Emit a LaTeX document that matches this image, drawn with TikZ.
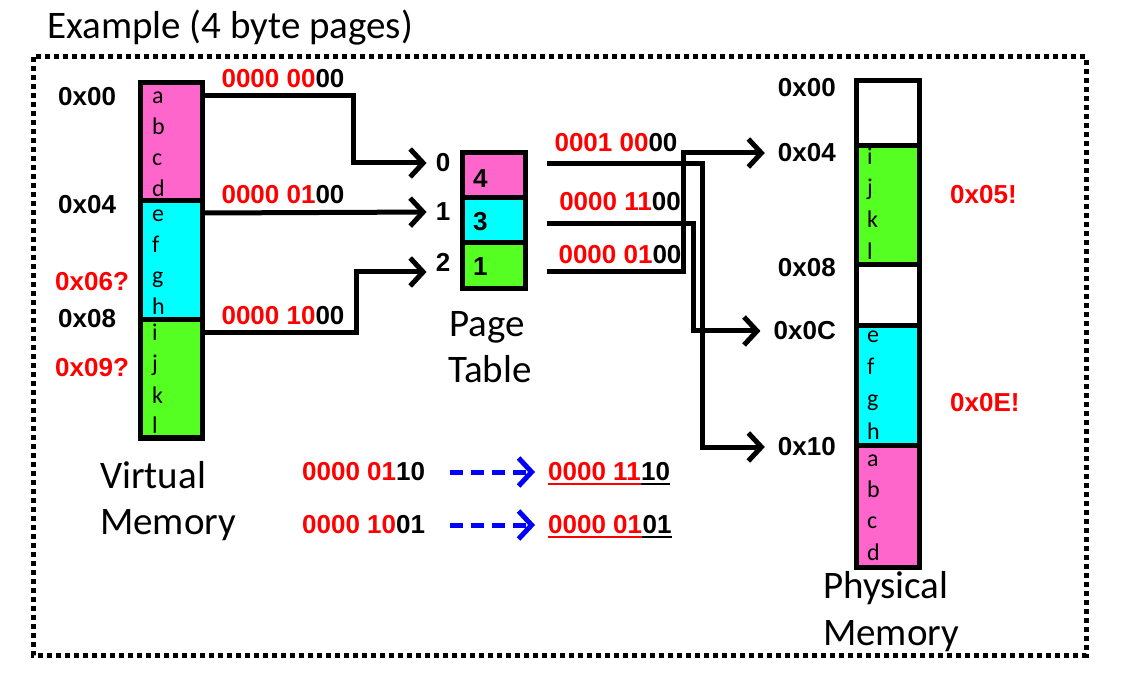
\documentclass[tikz,border=0pt]{standalone}
\usepackage{fontspec}
\setmainfont{Carlito}
\newfontfamily\arialfont{Liberation Sans}
\usetikzlibrary{arrows.meta}
\definecolor{pg}{RGB}{255,102,204}
\definecolor{cy}{RGB}{0,255,255}
\definecolor{gr}{RGB}{85,255,34}
\begin{document}
\begin{tikzpicture}[x=1pt,y=-1pt,
 page/.style={draw, line width=5pt, inner sep=0, minimum width=63pt},
 lbl/.style={font=\arialfont\bfseries\fontsize{26}{30}\selectfont, inner sep=0},
 big/.style={font=\fontsize{39}{46}\selectfont, inner sep=0, anchor=base west},
 ltr/.style={font=\fontsize{24}{27}\selectfont, inner sep=0, anchor=base west},
 conn/.style={line width=5pt, -{Straight Barb[length=13pt,width=28pt]}},
 dconn/.style={line width=5pt, blue, dash pattern=on 13pt off 8pt, -{Straight Barb[length=13pt,width=28pt]}},
]
\useasboundingbox (0,0) rectangle (1138,684);
% title and frame
\node[big] (title) at (47,39) {Example (4 byte pages)};
\draw[line width=5pt, dash pattern=on 5pt off 4pt] (33,57) rectangle (1086,655);
% virtual memory
\node[page, minimum width=62pt, fill=pg, minimum height=118pt] (vp0) at (171,142) {};
\node[page, minimum width=62pt, fill=cy, minimum height=119pt] (vp1) at (171,260.5) {};
\node[page, minimum width=62pt, fill=gr, minimum height=118pt] (vp2) at (171,379) {};
\foreach \ch/\y in {a/104,b/135,c/166,d/197,e/222,f/253,g/284,h/315,i/341,j/372,k/403,l/434}
  \node[ltr] (v\ch) at (152,\y) {\ch};
\node[lbl, anchor=west] (va0) at (58,97) {0x00};
\node[lbl, anchor=west] (va4) at (58,205) {0x04};
\node[lbl, anchor=west, text=red] (va6) at (55,282) {0x06?};
\node[lbl, anchor=west] (va8) at (58,319) {0x08};
\node[lbl, anchor=west, text=red] (va9) at (55,368) {0x09?};
\node[big] (vm1) at (100,488) {Virtual};
\node[big] (vm2) at (100,534) {Memory};
% page table
\node[page, fill=pg, minimum height=45pt] (pt0) at (493.5,175.5) {};
\node[page, fill=cy, minimum height=45pt] (pt1) at (493.5,220.5) {};
\node[page, fill=gr, minimum height=46pt] (pt2) at (493.5,266) {};
\node[lbl, anchor=west] (n4) at (473,179) {4};
\node[lbl, anchor=west] (n3) at (473,222) {3};
\node[lbl, anchor=west] (n1) at (473,267) {1};
\node[lbl] (idx0) at (443,163) {0};
\node[lbl] (idx1) at (443,212) {1};
\node[lbl] (idx2) at (443,262) {2};
\node[big] (pt1l) at (449,337) {Page};
\node[big] (pt2l) at (448,383) {Table};
% physical memory
\node[page, fill=white, minimum height=65pt] (pp0) at (887.5,113.5) {};
\node[page, fill=gr, minimum height=119pt] (pp1) at (887.5,205.5) {};
\node[page, fill=white, minimum height=61pt] (pp2) at (887.5,295.5) {};
\node[page, fill=cy, minimum height=119pt] (pp3) at (887.5,385.5) {};
\node[page, fill=pg, minimum height=122pt] (pp4) at (887.5,506) {};
\foreach \ch/\y in {i/165,j/196,k/228,l/260,e/343,f/375,g/407,h/439,a/466,b/497,c/528,d/560}
  \node[ltr] (p\ch) at (867,\y) {\ch};
\node[lbl, anchor=east] (pa0) at (836,88) {0x00};
\node[lbl, anchor=east] (pa1) at (836,153) {0x04};
\node[lbl, anchor=east] (pa2) at (836,268) {0x08};
\node[lbl, anchor=east] (pa3) at (836,331) {0x0C};
\node[lbl, anchor=east] (pa4) at (836,447) {0x10};
\node[lbl, anchor=west, text=red] (pa5) at (950,195) {0x05!};
\node[lbl, anchor=west, text=red] (pae) at (950,403) {0x0E!};
\node[big] (pm1) at (823,598) {Physical};
\node[big] (pm2) at (823,645) {Memory};
% VM -> page table connectors
\draw[conn, shorten >=9pt] (vp0.east |- 0,96) -- (353,96) |- (idx0.west);
\draw[conn, shorten >=9pt] (vp1.east |- 0,213) -- (idx1.west);
\draw[conn, shorten >=9pt] (vp2.east |- 0,333) -- (356,333) |- ([yshift=-10pt]idx2.west);
\node[lbl] (l0) at (283,79) {\textcolor{red}{0000 00}00};
\node[lbl] (l1) at (283,195) {\textcolor{red}{0000 01}00};
\node[lbl] (l2) at (283,316) {\textcolor{red}{0000 10}00};
% page table -> physical connectors
\coordinate (a0) at (547,164);
\coordinate (b0) at (547,224);
\coordinate (c0) at (547,272);
\draw[conn, shorten >=13pt] (a0) -- (702,164) |- (pa4.west);
\draw[conn, shorten >=13pt] (b0) -- (693,224) |- (pa3.west);
\draw[conn, shorten >=13pt] (c0) -- (683,272) |- (pa1.west);
\node[lbl] (r0) at (616,143) {\textcolor{red}{0001 00}00};
\node[lbl] (r1) at (620,202) {\textcolor{red}{0000 11}00};
\node[lbl] (r2) at (620,255) {\textcolor{red}{0000 01}00};
% translations
\node[lbl, anchor=west] (t1a) at (302,472) {\textcolor{red}{0000 01}10};
\node[lbl, anchor=west, text=red] (t1r) at (548,472) {0000 11};
\node[lbl, anchor=base west] (t1k) at (t1r.base east) {10};
\draw[dconn, shorten <=25pt, shorten >=13pt] (t1a.east) -- (t1r.west);
\draw[red, line width=2pt] ([yshift=-3pt]t1r.base west) -- ([yshift=-3pt]t1r.base east);
\draw[line width=2pt] ([yshift=-3pt]t1k.base west) -- ([yshift=-3pt]t1k.base east);
\node[lbl, anchor=west] (t2a) at (302,525) {\textcolor{red}{0000 10}01};
\node[lbl, anchor=west, text=red] (t2r) at (548,525) {0000 01};
\node[lbl, anchor=base west] (t2k) at (t2r.base east) {01};
\draw[dconn, shorten <=25pt, shorten >=13pt] (t2a.east) -- (t2r.west);
\draw[red, line width=2pt] ([yshift=-3pt]t2r.base west) -- ([yshift=-3pt]t2r.base east);
\draw[line width=2pt] ([yshift=-3pt]t2k.base west) -- ([yshift=-3pt]t2k.base east);
\end{tikzpicture}
\end{document}
